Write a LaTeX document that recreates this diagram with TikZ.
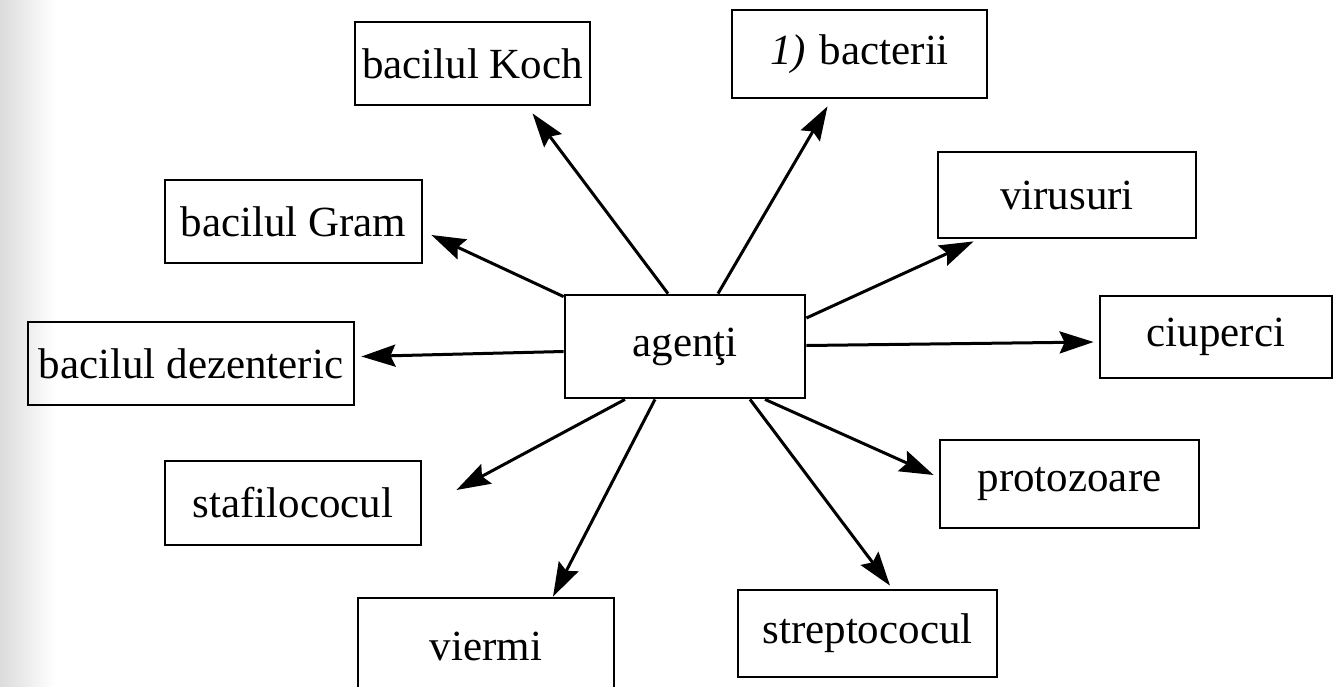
\documentclass[tikz,border=0pt]{standalone}
\usepackage{fontspec}
\setmainfont{Liberation Serif}
\usetikzlibrary{arrows.meta,calc}
\begin{document}
\begin{tikzpicture}[x=1pt,y=-1pt,
  box/.style={draw, line width=2.8pt, inner sep=0pt, font=\fontsize{43}{50}\selectfont},
  arr/.style={line width=3pt, -{Stealth[length=34pt,width=22pt,inset=5pt]}}]
\useasboundingbox (0,0) rectangle (1334,686);
% greyish scanned margin on the left
\shade[left color=black!14, right color=white] (0,0) rectangle (55,686);

% central node
\node[box, minimum width=240pt, minimum height=103pt] (ag) at (685,346.5) {agenţi};

% surrounding boxes
\node[box, minimum width=235pt, minimum height=83pt] (koch)  at (472.5,63.5) {bacilul Koch};
\node[box, minimum width=255pt, minimum height=88pt] (bact)  at (859.5,54) {\textit{1)}\hspace{14pt}bacterii\hspace{46pt}};
\node[box, minimum width=257pt, minimum height=83pt] (gram)  at (293.5,221.5) {bacilul Gram};
\node[box, minimum width=258pt, minimum height=86pt] (vir)   at (1067,195) {virusuri};
\node[box, minimum width=326pt, minimum height=83pt] (dez)   at (191,363.5) {bacilul dezenteric};
\node[box, minimum width=232pt, minimum height=82pt] (ciu)   at (1216,337) {ciuperci};
\node[box, minimum width=256pt, minimum height=84pt] (staf)  at (293,503) {stafilococul};
\node[box, minimum width=259pt, minimum height=88pt] (proto) at (1069.5,484) {protozoare};
\node[box, minimum width=256pt, minimum height=96pt] (vier)  at (486,646) {viermi};
\node[box, minimum width=259pt, minimum height=87pt] (strep) at (867.5,633.5) {streptococul};

% arrows from the central node
\draw[arr] ($(ag.north)+(-17,0)$) -- ($(koch.south)+(60,7)$);
\draw[arr] ($(ag.north)+(33,0)$) -- ($(bact.south)+(-32,7)$);
\draw[arr] ($(ag.north west)+(0,3)$) -- ($(gram.east)+(8,13.5)$);
\draw[arr] ($(ag.east)+(0,-28.5)$) -- ($(vir.south west)+(37,2)$);
\draw[arr] ($(ag.east)+(0,-1)$) -- ($(ciu.west)+(-5,5)$);
\draw[arr] ($(ag.west)+(0,5)$) -- ($(dez.east)+(6,-7)$);
\draw[arr] ($(ag.south)+(-60,0)$) -- ($(staf.east)+(34,-13)$);
\draw[arr] ($(ag.south)+(80,0)$) -- ($(proto.west)+(-5,-9)$);
\draw[arr] ($(ag.south)+(-30,0)$) -- ($(vier.north)+(67,0)$);
\draw[arr] ($(ag.south)+(65,0)$) -- ($(strep.north)+(22.5,-3)$);
\end{tikzpicture}
\end{document}
